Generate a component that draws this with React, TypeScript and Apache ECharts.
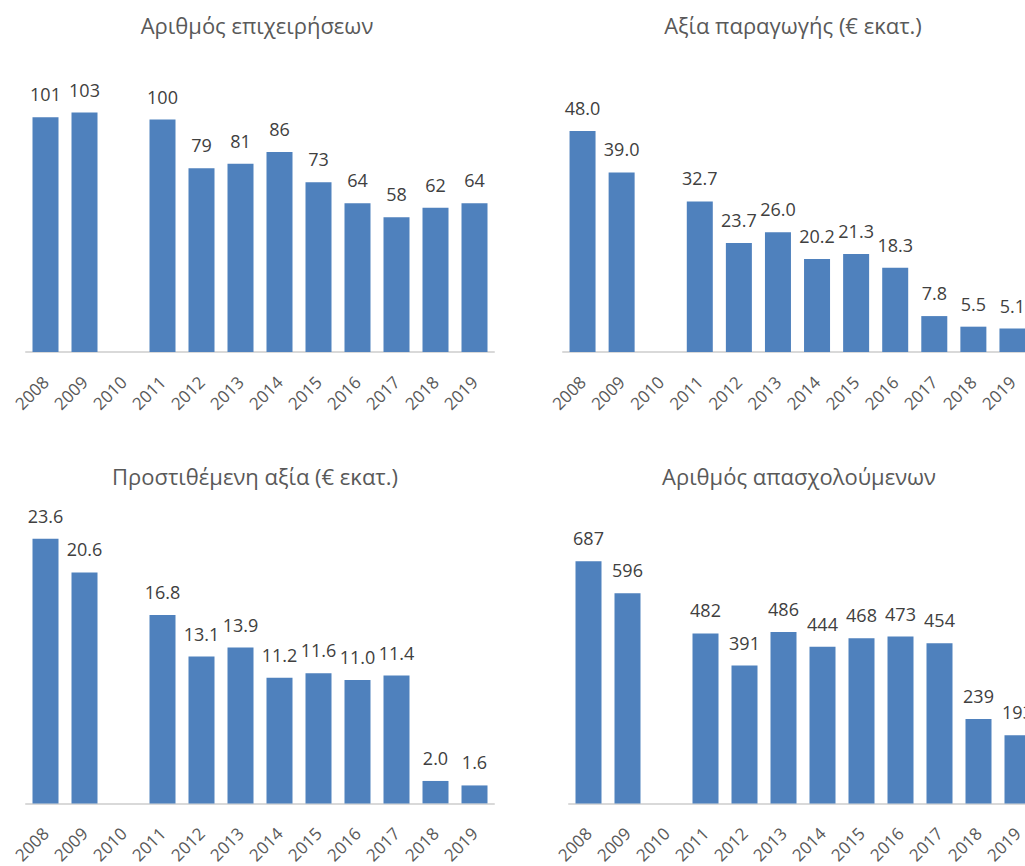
import React, { useEffect, useRef } from "react";
import * as echarts from "echarts";

const years = ["2008", "2009", "2010", "2011", "2012", "2013", "2014", "2015", "2016", "2017", "2018", "2019"];
const firms = [101, 103, null, 100, 79, 81, 86, 73, 64, 58, 62, 64];
const production = [48.0, 39.0, null, 32.7, 23.7, 26.0, 20.2, 21.3, 18.3, 7.8, 5.5, 5.1];
const valueAdded = [23.6, 20.6, null, 16.8, 13.1, 13.9, 11.2, 11.6, 11.0, 11.4, 2.0, 1.6];
const employees = [687, 596, null, 482, 391, 486, 444, 468, 473, 454, 239, 193];

const titles = [
  "Αριθμός επιχειρήσεων",
  "Αξία παραγωγής (€ εκατ.)",
  "Προστιθέμενη αξία (€ εκατ.)",
  "Αριθμός απασχολούμενων",
];

const FONT = "'Open Sans', 'Noto Sans', sans-serif";

export default function App() {
  const ref = useRef<HTMLDivElement>(null);
  useEffect(() => {
    if (!ref.current) return;
    const chart = echarts.init(ref.current, null, { renderer: "svg" });
    const grids = [
      { left: 26, top: 72, width: 468, height: 280 },
      { left: 563, top: 72, width: 469, height: 280 },
      { left: 26, top: 528, width: 468, height: 280 },
      { left: 569, top: 528, width: 468, height: 280 },
    ];
    const maxes = [280 / 2.325, 280 / 4.604, 280 / 11.4, 280 / 0.3585];
    const datasets = [firms, production, valueAdded, employees];
    const decimals = [0, 1, 1, 0];
    const titlePos = [
      [257, 25],
      [793, 25],
      [255, 476],
      [799, 476],
    ];
    chart.setOption({
      animation: false,
      textStyle: { fontFamily: FONT },
      grid: grids,
      graphic: titles.map((t, i) => ({
        type: "text",
        x: titlePos[i][0],
        y: titlePos[i][1],
        style: {
          text: t,
          fontSize: 22,
          fontFamily: FONT,
          fill: "#595959",
          align: "center",
          verticalAlign: "middle",
        },
      })),
      xAxis: grids.map((_, i) => ({
        type: "category",
        gridIndex: i,
        data: years,
        axisLine: { show: true, lineStyle: { color: "#d9d9d9", width: 2 } },
        axisTick: { show: false },
        axisLabel: {
          rotate: 45,
          interval: 0,
          margin: 27,
          fontSize: 17,
          color: "#595959",
          fontFamily: FONT,
        },
      })),
      yAxis: grids.map((_, i) => ({
        type: "value",
        gridIndex: i,
        min: 0,
        max: maxes[i],
        show: false,
        splitLine: { show: false },
      })),
      series: datasets.map((d, i) => ({
        type: "bar",
        xAxisIndex: i,
        yAxisIndex: i,
        data: d,
        barWidth: 26,
        itemStyle: { color: "#4f81bd" },
        label: {
          show: true,
          position: "top",
          distance: 14,
          fontSize: 18,
          color: "#404040",
          fontFamily: FONT,
          formatter: (p: any) =>
            p.value == null ? "" : Number(p.value).toFixed(decimals[i]),
        },
      })),
    });
    return () => chart.dispose();
  }, []);
  return (
    <div
      style={{
        position: "fixed",
        left: 0,
        top: 0,
        width: 1025,
        height: 866,
        overflow: "hidden",
        background: "#fff",
      }}
    >
      <div ref={ref} style={{ width: 1070, height: 866 }} />
    </div>
  );
}
